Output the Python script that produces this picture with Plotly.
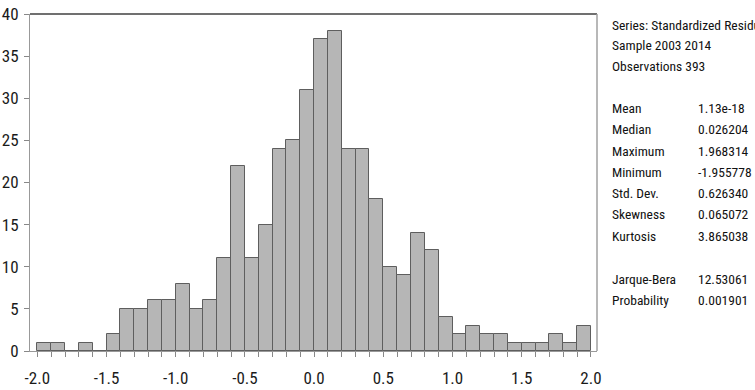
import plotly.graph_objects as go

bin_starts = [-2.0, -1.9, -1.8, -1.7, -1.6, -1.5, -1.4, -1.3, -1.2, -1.1,
              -1.0, -0.9, -0.8, -0.7, -0.6, -0.5, -0.4, -0.3, -0.2, -0.1,
              0.0, 0.1, 0.2, 0.3, 0.4, 0.5, 0.6, 0.7, 0.8, 0.9,
              1.0, 1.1, 1.2, 1.3, 1.4, 1.5, 1.6, 1.7, 1.8, 1.9]
counts = [1, 1, 0, 1, 0, 2, 5, 5, 6, 6,
          8, 5, 6, 11, 22, 11, 15, 24, 25, 31,
          37, 38, 24, 24, 18, 10, 9, 14, 12, 4,
          2, 3, 2, 2, 1, 1, 1, 2, 1, 3]
bin_width = 0.1

x_tickvals = [-2.0, -1.5, -1.0, -0.5, 0.0, 0.5, 1.0, 1.5, 2.0]
x_ticktext = ["-2.0", "-1.5", "-1.0", "-0.5", "0.0", "0.5", "1.0", "1.5", "2.0"]
y_tickvals = [0, 5, 10, 15, 20, 25, 30, 35, 40]

header_lines = ["Series: Standardized Residuals", "Sample 2003 2014", "Observations 393"]
stat_names = ["Mean", "Median", "Maximum", "Minimum", "Std. Dev.", "Skewness", "Kurtosis"]
stat_values = ["1.13e-18", "0.026204", "1.968314", "-1.955778", "0.626340", "0.065072", "3.865038"]
test_names = ["Jarque-Bera", "Probability"]
test_values = ["12.53061", "0.001901"]

FONT = "Roboto Condensed, Arial Narrow, sans-serif"

centers = [s + bin_width / 2 for s in bin_starts]

fig = go.Figure(go.Bar(
    x=centers, y=counts, width=bin_width,
    marker=dict(color="#b6b6b6", line=dict(color="#5e5e5e", width=1)),
    hoverinfo="x+y",
))

W, H = 755, 390
L, R, T, B = 30, 158, 14, 39

fig.update_layout(
    template="none",
    width=W, height=H,
    margin=dict(l=L, r=R, t=T, b=B, pad=0),
    paper_bgcolor="white", plot_bgcolor="white",
    showlegend=False, bargap=0,
    font=dict(family=FONT, size=15, color="#1a1a1a"),
)
fig.update_xaxes(
    automargin=False,
    range=[-2.053, 2.044], tickvals=x_tickvals, ticktext=x_ticktext,
    ticks="outside", ticklen=5, tickcolor="#888", tickwidth=1,
    minor=dict(dtick=0.1, tick0=0, ticks="outside", ticklen=5, tickcolor="#888", tickwidth=1),
    showgrid=False, zeroline=False, showline=True, linecolor="#999", linewidth=1,
    tickfont=dict(size=17), ticklabelstandoff=7,
)
fig.update_yaxes(
    automargin=False,
    range=[0, 40], tickvals=y_tickvals,
    ticks="outside", ticklen=5, tickcolor="#888", tickwidth=1,
    showgrid=False, zeroline=False, showline=True, linecolor="#999", linewidth=1,
    tickfont=dict(size=17), ticklabelstandoff=2,
)
# top and right frame
fig.add_shape(type="line", xref="paper", yref="paper", x0=0, x1=1, y0=1, y1=1,
              line=dict(color="#707070", width=2))
fig.add_shape(type="line", xref="paper", yref="paper", x0=1, x1=1, y0=0, y1=1,
              line=dict(color="#a0a0a0", width=1.5))

def px_x(px):
    return (px - L) / (W - L - R)

def px_y(py):
    return 1 - (py - T) / (H - T - B)

ann = []
for i, t in enumerate(header_lines):
    ann.append(dict(text=t, x=px_x(610), y=px_y(25 + 20.5 * i)))
for i, (n, v) in enumerate(zip(stat_names, stat_values)):
    y = 108 + 21.3 * i
    ann.append(dict(text=n, x=px_x(610), y=px_y(y)))
    ann.append(dict(text=v, x=px_x(696), y=px_y(y)))
for i, (n, v) in enumerate(zip(test_names, test_values)):
    y = 279 + 21.3 * i
    ann.append(dict(text=n, x=px_x(610), y=px_y(y)))
    ann.append(dict(text=v, x=px_x(696), y=px_y(y)))
for a in ann:
    fig.add_annotation(xref="paper", yref="paper", xanchor="left", yanchor="middle",
                       showarrow=False,
                       font=dict(size=13.5, color="#111111", family=FONT), **a)

fig.write_html("out.html", config={"displayModeBar": False},
               post_script="document.body.style.margin='0px';document.body.style.overflow='hidden';")
